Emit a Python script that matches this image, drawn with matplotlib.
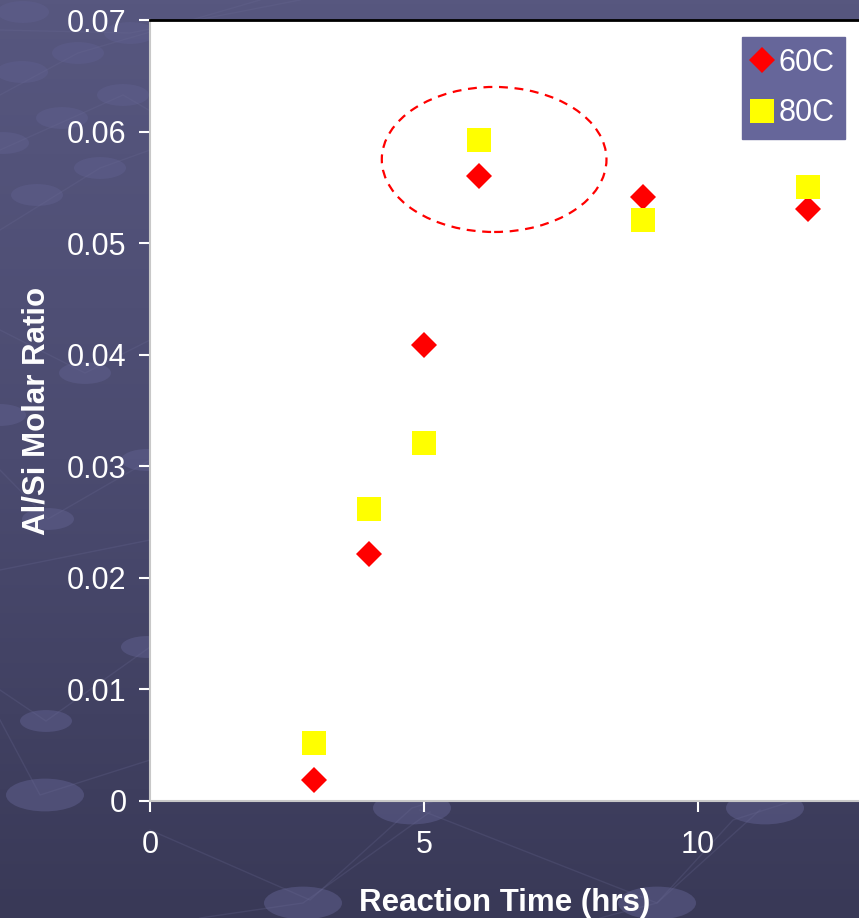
import numpy as np
import matplotlib
matplotlib.use('Agg')
import matplotlib.pyplot as plt
from matplotlib.patches import Ellipse
from matplotlib.colors import LinearSegmentedColormap

plt.rcParams['font.family'] = ['Liberation Sans', 'DejaVu Sans']

# reaction time (hrs) and Al/Si molar ratio for the two temperatures
hours = [3, 4, 5, 6, 9, 12]
ratio_60c = [0.0019, 0.0221, 0.0409, 0.0560, 0.0541, 0.0531]
ratio_80c = [0.0052, 0.0262, 0.0321, 0.0592, 0.0521, 0.0550]

W, H = 859, 918
fig = plt.figure(figsize=(W / 100, H / 100), dpi=100)

# slide background: vertical gradient with faint dots and connecting lines
bg = fig.add_axes([0, 0, 1, 1], zorder=-10)
bg.set_xlim(0, W)
bg.set_ylim(H, 0)
bg.axis('off')
cmap = LinearSegmentedColormap.from_list('slide', ['#57577f', '#4b4b70', '#393957'])
grad = np.linspace(0, 1, 256).reshape(-1, 1)
bg.imshow(grad, cmap=cmap, extent=[0, W, H, 0], aspect='auto')

lines = [
    [(0, 30), (130, 33), (300, 0)],
    [(0, 95), (78, 53), (260, 0)],
    [(0, 150), (123, 95), (200, 140), (300, 170)],
    [(0, 230), (100, 168), (150, 150)],
    [(0, 330), (85, 373), (150, 340)],
    [(0, 470), (48, 519), (150, 460)],
    [(0, 570), (150, 540)],
    [(0, 690), (46, 721), (150, 647)],
    [(0, 720), (40, 795), (150, 760)],
    [(150, 830), (310, 900), (412, 808), (470, 790)],
    [(420, 810), (657, 903), (733, 820), (859, 780)],
    [(200, 918), (303, 903), (430, 812)],
    [(600, 918), (657, 903), (760, 810)],
]
for pts in lines:
    xs, ys = zip(*pts)
    bg.plot(xs, ys, color='#6a6a94', lw=1, alpha=0.25)

dots = [(23, 12), (130, 33), (78, 53), (22, 72), (123, 95), (62, 118),
        (3, 143), (100, 168), (37, 195), (85, 373), (0, 415), (48, 519),
        (147, 460), (147, 647), (46, 721), (45, 795), (412, 808),
        (303, 903), (657, 903), (765, 808)]
for x, y in dots:
    w = 52 if y < 780 else 78
    bg.add_patch(Ellipse((x, y), w, w * 0.42, color='#5e5e8c', alpha=0.55, lw=0))

ax = fig.add_axes([150 / W, (H - 801) / H, 709 / W, 781 / H])
ax.set_facecolor('white')

ax.plot(hours, ratio_60c, 'D', color='#ff0000', markersize=13.2,
        markeredgewidth=0, label='60C', zorder=3)
ax.plot(hours, ratio_80c, 's', color='#ffff00', markersize=16.6,
        markeredgewidth=0, label='80C', zorder=3)

# highlight the peak at 6 hrs
ax.add_patch(Ellipse((6.28, 0.0575), 4.1, 0.013, fill=False,
                     edgecolor='#ff0000', linestyle=(0, (4, 3)), lw=1.6, zorder=2))

ax.set_xlim(0, 709 / 54.8)
ax.set_ylim(0, 0.07)
ax.set_xticks([0, 5, 10])
ax.set_yticks(np.arange(0, 0.071, 0.01))
ax.set_yticklabels(['0', '0.01', '0.02', '0.03', '0.04', '0.05', '0.06', '0.07'])

for side in ['left', 'bottom']:
    ax.spines[side].set_color('#c8c8c8')
    ax.spines[side].set_linewidth(1.5)
ax.spines['top'].set_color('black')
ax.spines['top'].set_linewidth(2)
ax.spines['right'].set_visible(False)

ax.tick_params(axis='both', colors='white', labelsize=22, length=8,
               width=1.5, direction='out')
ax.tick_params(axis='y', pad=9)
ax.tick_params(axis='x', pad=13)

ax.set_xlabel('Reaction Time (hrs)', color='white', fontsize=22.5,
              fontweight='bold', labelpad=20)
ax.set_ylabel('Al/Si Molar Ratio', color='white', fontsize=22.5,
              fontweight='bold', labelpad=11)

leg = ax.legend(loc='upper right', bbox_to_anchor=(695 / 709, 1 - 17 / 781),
                fontsize=22, frameon=True, fancybox=False,
                handlelength=0.6, handletextpad=0.25, labelspacing=0.68,
                borderpad=0.35, borderaxespad=0)
leg.get_frame().set_facecolor('#66669a')
leg.get_frame().set_edgecolor('#66669a')
leg.get_frame().set_alpha(1)
for t in leg.get_texts():
    t.set_color('white')

fig.savefig('out.png', dpi=100)
